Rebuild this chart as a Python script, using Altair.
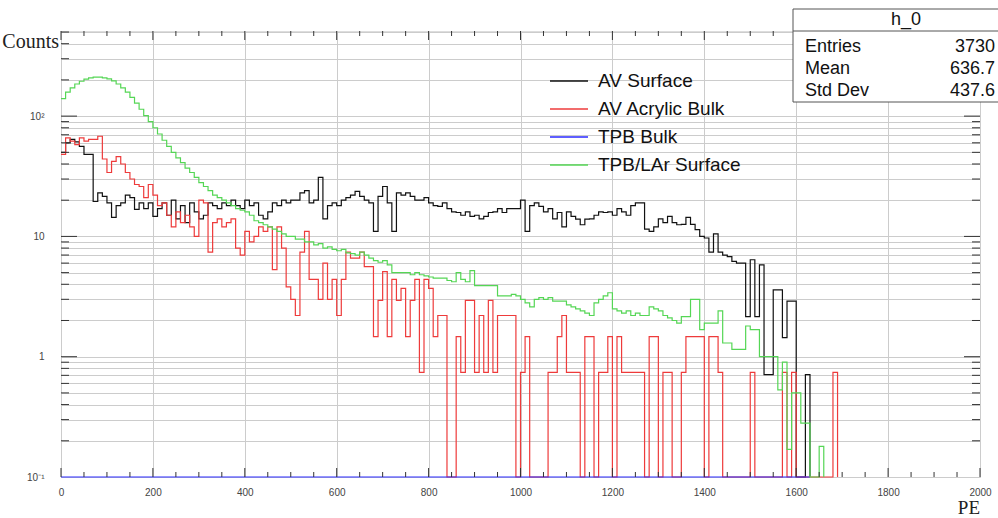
import altair as alt
import pandas as pd

BIN_WIDTH = 10  # PE per bin, bins start at 0

series_names = ["AV Surface", "AV Acrylic Bulk", "TPB Bulk", "TPB/LAr Surface"]
series_colors = ["#111111", "#ee3b3b", "#2a2aff", "#55d655"]

av_surface = [
    50, 60, 64, 61, 56, 48, 48, 19.5, 23, 21.5,
    19, 14.4, 18, 19, 22, 21, 16.8, 19, 17, 19,
    14.7, 17, 19, 15, 20, 14, 18, 13, 19, 16,
    14, 15, 19, 18, 17, 19, 18, 20, 18, 17,
    20, 18, 19, 15, 14, 16, 19, 18, 20, 19,
    20, 20, 23, 24, 19, 20, 31, 14, 18, 19,
    18, 20, 21, 22, 23.7, 21.5, 20, 19, 11, 21.5,
    26, 19, 11, 23, 22, 23, 21.5, 20, 20, 21,
    19, 18, 17.8, 19, 17, 16, 15.8, 15, 16, 14.7,
    15, 14, 14.7, 15.8, 16, 17, 15.8, 17, 17, 17,
    20, 11, 18, 19, 17.8, 16, 17, 14, 15.8, 12,
    16, 14.7, 13.9, 12.5, 13.9, 14, 15, 16, 15.8, 16,
    15, 17, 16, 15, 18, 19, 19, 11.5, 11, 12,
    14, 13, 14.7, 13, 12.5, 12.6, 14.4, 12.6, 11.4, 10,
    9.7, 7.4, 10.5, 7.4, 7, 6.8, 6.2, 6, 6, 2.15,
    6.4, 2.15, 5.8, 0.71, 0.71, 3.6, 3.6, 1.44, 2.9, 2.9,
    0, 0, 0.71,
]

av_acrylic_bulk = [
    48, 66, 62, 58, 66, 62, 64, 64, 68, 44,
    34, 42, 46, 40, 34, 30, 27, 26, 21, 27,
    22, 18, 19, 15, 12, 16, 13, 15, 12, 10,
    20, 19, 7.4, 13, 14, 12, 13, 14, 8, 7,
    11, 9, 10, 12, 11, 12, 5.3, 12, 8, 3.8,
    3, 2.2, 7.4, 11, 4.4, 4.4, 3, 6, 3, 4.4,
    2.2, 4.4, 7.4, 6.6, 6.6, 7.4, 5.6, 5.6, 1.47, 2.94,
    5.1, 1.47, 4.4, 2.94, 3.7, 1.47, 2.94, 4.4, 0.74, 4.4,
    3.7, 1.47, 2.2, 2.2, 0, 0, 1.47, 0.74, 2.94, 2.94,
    0.74, 2.2, 0.74, 2.94, 0.74, 2.2, 2.2, 2.2, 2.2, 0,
    0.74, 1.47, 0, 0, 0, 0, 0.74, 0.74, 1.47, 2.2,
    0.74, 0.74, 0.74, 0, 1.47, 1.47, 0, 0.74, 0.74, 1.47,
    0, 1.47, 0.74, 0.74, 0.74, 0.74, 0.74, 0, 1.47, 1.47,
    0, 0.74, 0.74, 0, 0, 0.74, 1.47, 1.47, 1.47, 1.47,
    0, 1.47, 1.47, 0.74, 0, 0, 0, 0, 0, 0,
    0.74, 0, 0, 0, 0, 0, 0, 0.74, 0, 0.74,
    0, 0, 0, 0, 0, 0, 0, 0, 0.74,
]

tpb_bulk = [0] * 163  # empty histogram: every bin is zero

tpb_lar_surface = [
    140, 158, 172, 185, 195, 203, 208, 211, 211, 208,
    204, 196, 185, 172, 158, 143, 128, 114, 101, 90,
    80, 71, 63, 56, 50, 45, 41, 37, 34, 31,
    28, 26, 24, 22, 21, 20, 19, 18, 17, 16.5,
    16, 15, 13.5, 13, 12.5, 12, 11.5, 11, 10.5, 10,
    10, 9.5, 9.5, 9, 9, 8.5, 8.7, 8, 8.2, 7.8,
    7.6, 7.8, 7.3, 7.2, 7, 7.4, 7, 6.6, 6.3, 6.1,
    6.3, 5.8, 5, 5, 5, 5, 4.8, 5, 4.8, 4.7,
    4.6, 4.5, 4.5, 4.5, 4.3, 4.2, 5, 4.4, 4.2, 5.2,
    3.9, 3.9, 3.9, 3.9, 3.9, 3.2, 3.2, 3.2, 3.3, 3.2,
    3, 2.8, 2.6, 3, 3.1, 3, 3.1, 2.9, 2.9, 2.9,
    2.7, 2.6, 2.5, 2.4, 2.3, 2.2, 2.8, 3, 3.2, 3.4,
    2.5, 2.4, 2.3, 2.4, 2.2, 2.3, 2.2, 2.2, 2.6, 2.5,
    2.4, 2.2, 2.1, 2.0, 1.9, 2.15, 2.15, 3, 3, 1.68,
    1.9, 1.9, 1.9, 2.4, 1.3, 1.3, 1.15, 1.15, 1.15, 1.8,
    1.68, 1.68, 1, 1, 1, 1, 0.53, 0.9, 0.17, 0.5,
    0.5, 0.28, 0.28, 0, 0, 0.18,
]

x_major = [0, 200, 400, 600, 800, 1000, 1200, 1400, 1600, 1800, 2000]
x_minor = [50, 100, 150, 250, 300, 350, 450, 500, 550, 650, 700, 750, 850, 900, 950,
           1050, 1100, 1150, 1250, 1300, 1350, 1450, 1500, 1550, 1650, 1700, 1750,
           1850, 1900, 1950]
y_major = [0.1, 1, 10, 100]
y_minor = [0.2, 0.3, 0.4, 0.5, 0.6, 0.7, 0.8, 0.9,
           2, 3, 4, 5, 6, 7, 8, 9,
           20, 30, 40, 50, 60, 70, 80, 90,
           200, 300, 400, 500]

stats_title = "h_0"
stats_labels = ["Entries", "Mean", "Std Dev"]
stats_values = ["3730", "636.7", "437.6"]

Y_MIN, Y_MAX = 0.1, 510
W, H = 919, 446

rows = []
for name, vals in zip(series_names, [av_surface, av_acrylic_bulk, tpb_bulk, tpb_lar_surface]):
    for i, v in enumerate(vals):
        rows.append({"series": name, "pe": i * BIN_WIDTH, "v": v})
    rows.append({"series": name, "pe": len(vals) * BIN_WIDTH, "v": 0})
df = pd.DataFrame(rows)

xscale = alt.Scale(domain=[0, 2000], nice=False, zero=False)
yscale = alt.Scale(type="log", domain=[Y_MIN, Y_MAX], nice=False)

label_expr = ("datum.value == 0.1 ? '10⁻¹' : datum.value == 1 ? '1' : "
              "datum.value == 10 ? '10' : datum.value == 100 ? '10²' : ''")

x_axis = alt.Axis(values=x_major, grid=True, gridColor="#cccccc", gridWidth=1,
                  ticks=False, tickSize=0, domain=False, title=None,
                  labelFont="Liberation Sans", labelFontSize=10, labelColor="#444",
                  labelPadding=10, labelFlush=False, labelOverlap=False, format="d")
y_axis = alt.Axis(values=y_major + y_minor, grid=True, gridColor="#cccccc", gridWidth=1,
                  ticks=False, tickSize=0, domain=False, title=None,
                  labelExpr=label_expr, labelFont="Liberation Sans", labelFontSize=10,
                  labelColor="#444", labelPadding=17, labelOverlap=False, labelFlush=False)

lines = alt.Chart(df).transform_calculate(
    vv="max(datum.v, 0.1)"
).mark_line(interpolate="step-after", strokeWidth=1.2).encode(
    x=alt.X("pe:Q", scale=xscale, axis=x_axis),
    y=alt.Y("vv:Q", scale=yscale, axis=y_axis),
    color=alt.Color("series:N", scale=alt.Scale(domain=series_names, range=series_colors),
                    legend=None),
    order=alt.Order("pe:Q"),
)

tick_color = "#333333"

def yticks(vals, x0, x1):
    return alt.Chart(pd.DataFrame({"vv": vals})).mark_rule(color=tick_color, strokeWidth=1).encode(
        y=alt.Y("vv:Q", scale=yscale, axis=y_axis), x=alt.value(x0), x2=alt.value(x1))

def xticks(vals, y0, y1):
    return alt.Chart(pd.DataFrame({"pe": vals})).mark_rule(color=tick_color, strokeWidth=1).encode(
        x=alt.X("pe:Q", scale=xscale, axis=x_axis), y=alt.value(y0), y2=alt.value(y1))

ticks = [
    yticks(y_major[1:], 0, 16), yticks(y_minor, 0, 8),
    yticks(y_major[1:], W, W - 16), yticks(y_minor, W, W - 8),
    xticks(x_major, H, H - 9), xticks(x_minor, H, H - 5),
    xticks(x_major, 0, 9), xticks(x_minor, 0, 5),
]

one = pd.DataFrame({"k": [0]})

legend_layers = []
for i, (name, col) in enumerate(zip(series_names, series_colors)):
    yy = 50 + 28 * i
    legend_layers.append(alt.Chart(one).mark_rule(color=col, strokeWidth=1.3).encode(
        x=alt.value(489), x2=alt.value(527), y=alt.value(yy)))
    legend_layers.append(alt.Chart(one).mark_text(
        text=name, align="left", baseline="middle", font="Liberation Sans", fontSize=19,
        color="#111").encode(x=alt.value(537), y=alt.value(yy)))

stats_layers = [
    alt.Chart(one).mark_rect(fill="white", stroke="#555", strokeWidth=1).encode(
        x=alt.value(732), x2=alt.value(960), y=alt.value(-22), y2=alt.value(71)),
    alt.Chart(one).mark_rule(color="#555", strokeWidth=1).encode(
        x=alt.value(732), x2=alt.value(960), y=alt.value(0)),
    alt.Chart(one).mark_text(text=stats_title, align="center", baseline="middle",
                             font="Liberation Sans", fontSize=18, color="#111").encode(
        x=alt.value(845), y=alt.value(-11)),
]
for i, (lab, val) in enumerate(zip(stats_labels, stats_values)):
    yy = 16 + 22 * i
    stats_layers.append(alt.Chart(one).mark_text(
        text=lab, align="left", baseline="middle", font="Liberation Sans", fontSize=18,
        color="#111").encode(x=alt.value(744), y=alt.value(yy)))
    stats_layers.append(alt.Chart(one).mark_text(
        text=val, align="right", baseline="middle", font="Liberation Sans", fontSize=18,
        color="#111").encode(x=alt.value(934), y=alt.value(yy)))

titles = [
    alt.Chart(one).mark_text(text="Counts", align="right", baseline="middle",
                             font="Liberation Serif", fontSize=20, color="#222").encode(
        x=alt.value(-2), y=alt.value(11)),
    alt.Chart(one).mark_text(text="PE", align="right", baseline="middle",
                             font="Liberation Serif", fontSize=19, color="#222").encode(
        x=alt.value(919), y=alt.value(477)),
]

chart = alt.layer(lines, *ticks, *legend_layers, *stats_layers, *titles).properties(
    width=W, height=H,
    autosize=alt.AutoSizeParams(type="none"),
    padding={"left": 61, "top": 31, "right": 18, "bottom": 41},
).configure_view(stroke="#333333", strokeWidth=1).configure(background="white")

chart.save("out.html", embed_options={"renderer": "svg", "actions": False})
